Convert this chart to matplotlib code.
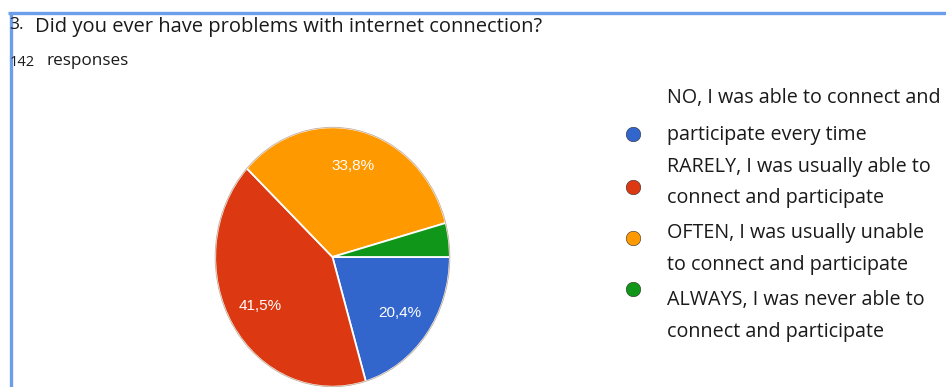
import matplotlib
matplotlib.use("Agg")
import matplotlib.pyplot as plt
from matplotlib.patches import Circle

# Data
categories = [
    "NO, I was able to connect and\nparticipate every time",
    "RARELY, I was usually able to\nconnect and participate",
    "OFTEN, I was usually unable\nto connect and participate",
    "ALWAYS, I was never able to\nconnect and participate",
]
counts = [29, 59, 48, 6]
colors = ["#3366cc", "#dc3912", "#ff9900", "#109618"]
title = "Did you ever have problems with internet connection?"
question_no = "3."
n_responses = "142"

W, H = 946, 387
fig = plt.figure(figsize=(W / 100, H / 100), dpi=100)
fig.patch.set_facecolor("white")

# Pie axes (elliptical, as in the reference)
cx, cy, rx, ry = 332.5, 257, 118.5, 131
ax = fig.add_axes([(cx - rx) / W, (H - cy - ry) / H, 2 * rx / W, 2 * ry / H])
ax.axis("off")


def fmt(p):
    return (f"{p:.1f}%".replace(".", ",")) if p >= 5 else ""


wedges, texts, autotexts = ax.pie(
    counts, colors=colors, startangle=0, counterclock=False,
    autopct=fmt, pctdistance=0.72, radius=1,
    wedgeprops=dict(edgecolor="white", linewidth=1.3),
    textprops=dict(color="white", fontsize=11, family="Liberation Sans"),
    frame=False,
)
# thin darker outline around the pie
ax.add_patch(Circle((0, 0), 1.0, fill=False, edgecolor="#8a5a30", linewidth=0.6, alpha=0.5))
ax.set_xlim(-1.01, 1.01)
ax.set_ylim(-1.01, 1.01)
ax.set_aspect("auto")

# Overlay axes in pixel coordinates
ov = fig.add_axes([0, 0, 1, 1], zorder=-1)
ov.set_xlim(0, W)
ov.set_ylim(H, 0)
ov.axis("off")

border = "#6d9eeb"
ov.plot([8, W], [12.5, 12.5], color=border, lw=2.4, solid_capstyle="butt")
ov.plot([10.5, 10.5], [12, H], color=border, lw=2.4, solid_capstyle="butt")

font = "Open Sans"
tc = "#1a1a1a"
ov.text(9, 25, question_no, fontsize=12.5, family=font, va="center", ha="left", color=tc)
ov.text(35, 27, title, fontsize=14.5, family=font, va="center", ha="left", color=tc)
ov.text(10, 62, n_responses, fontsize=10.5, family=font, va="center", ha="left", color=tc)
ov.text(46, 61, "responses", fontsize=12.3, family=font, va="center", ha="left", color=tc)

# Legend
marker_y = [134, 187, 238, 289]
line_y = [(98, 135), (167, 198), (233, 265), (300, 332)]
for lab, col, my, ly in zip(categories, colors, marker_y, line_y):
    ov.scatter([633], [my], s=110, color=col, edgecolors="#333333", linewidths=0.4, zorder=3)
    for txt, yy in zip(lab.split("\n"), ly):
        ov.text(667, yy, txt, fontsize=14.25, family=font, va="center", ha="left", color=tc)

fig.savefig("out.png", dpi=100, facecolor="white")
